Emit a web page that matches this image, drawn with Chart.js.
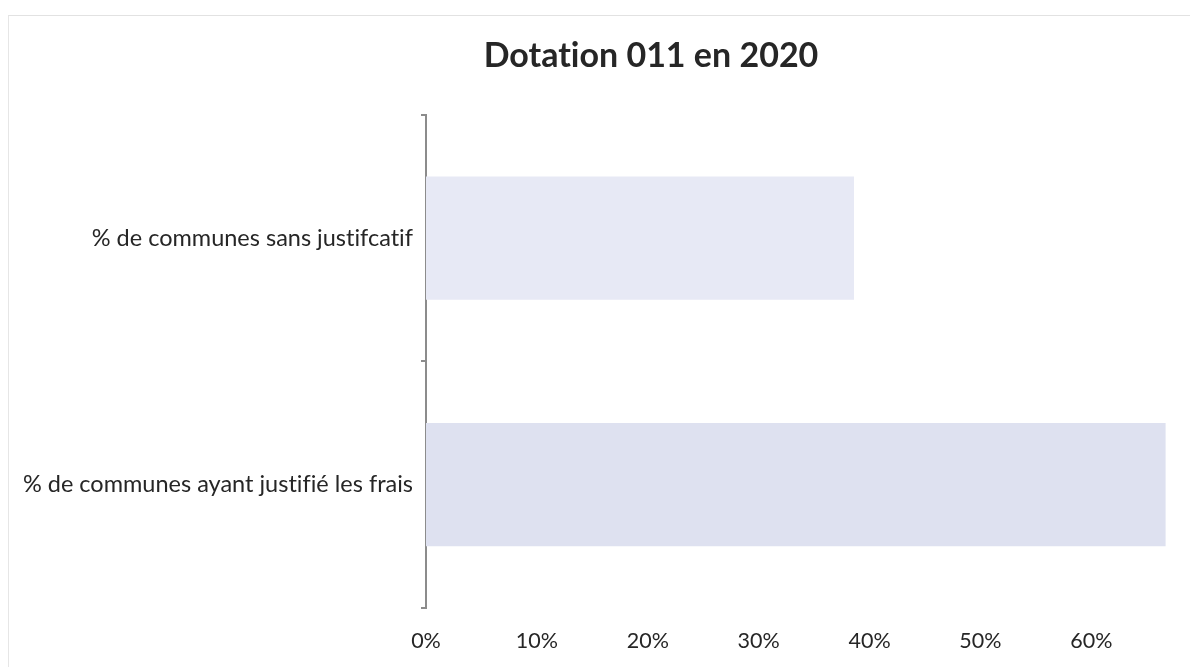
<!DOCTYPE html>
<html lang="fr">
<head>
<meta charset="utf-8">
<title>Dotation 011 en 2020</title>
<script src="https://cdn.jsdelivr.net/npm/chart.js@4/dist/chart.umd.min.js"></script>
<style>
  html, body { margin: 0; padding: 0; background: #ffffff; overflow: hidden; width: 1190px; height: 667px; }
  #frame { position: absolute; left: 8px; top: 15px; width: 1400px; height: 700px;
           border-top: 1px solid #e2e2e2; border-left: 1px solid #e6e6e6; }
  #wrap { position: absolute; left: 0; top: 0; width: 1302px; height: 667px; }
</style>
</head>
<body>
<div id="frame"></div>
<div id="wrap"><canvas id="chart" width="1302" height="667"></canvas></div>
<script>
// Chart data
const categories = ['% de communes sans justifcatif', '% de communes ayant justifié les frais'];
const shares = [38.6, 66.7];
const tickValues = [0, 10, 20, 30, 40, 50, 60];
const chartTitle = 'Dotation 011 en 2020';

const FONT = 'Lato, "Open Sans", sans-serif';
const INK = '#262626';

// Draw text glyph by glyph, without typographic ligatures
const plainText = {
  id: 'plainText',
  beforeDraw(chart) { chart.ctx.textRendering = 'optimizeSpeed'; }
};

new Chart(document.getElementById('chart'), {
  type: 'bar',
  data: {
    labels: categories,
    datasets: [{
      data: shares,
      backgroundColor: ['#e7e9f5', '#dee1f0'],
      borderWidth: 0,
      categoryPercentage: 0.5,
      barPercentage: 1.0
    }]
  },
  plugins: [plainText],
  options: {
    indexAxis: 'y',
    responsive: false,
    animation: false,
    events: [],
    layout: { padding: { left: 0, right: 0, top: 0, bottom: 14 } },
    plugins: {
      legend: { display: false },
      tooltip: { enabled: false },
      title: {
        display: true,
        text: chartTitle,
        color: INK,
        font: { family: FONT, size: 34, weight: 'bold' },
        padding: { top: 36, bottom: 38 }
      }
    },
    scales: {
      x: {
        min: 0,
        max: 79,
        afterBuildTicks: (scale) => {
          scale.ticks = tickValues.map(v => ({ value: v }));
        },
        afterFit: (scale) => { scale.height = 45; },
        ticks: {
          color: INK,
          font: { family: FONT, size: 21.5 },
          padding: 12,
          callback: (v) => v + '%'
        },
        grid: { display: false },
        border: { display: false }
      },
      y: {
        afterFit: (scale) => { scale.width = 426; },
        ticks: {
          color: INK,
          font: { family: FONT, size: 23.5 },
          padding: 8
        },
        grid: {
          display: true,
          offset: true,
          drawOnChartArea: false,
          drawTicks: true,
          tickLength: 5,
          color: '#8c8c8c',
          lineWidth: 2
        },
        border: { display: true, color: '#8c8c8c', width: 2 }
      }
    }
  }
});
</script>
</body>
</html>
